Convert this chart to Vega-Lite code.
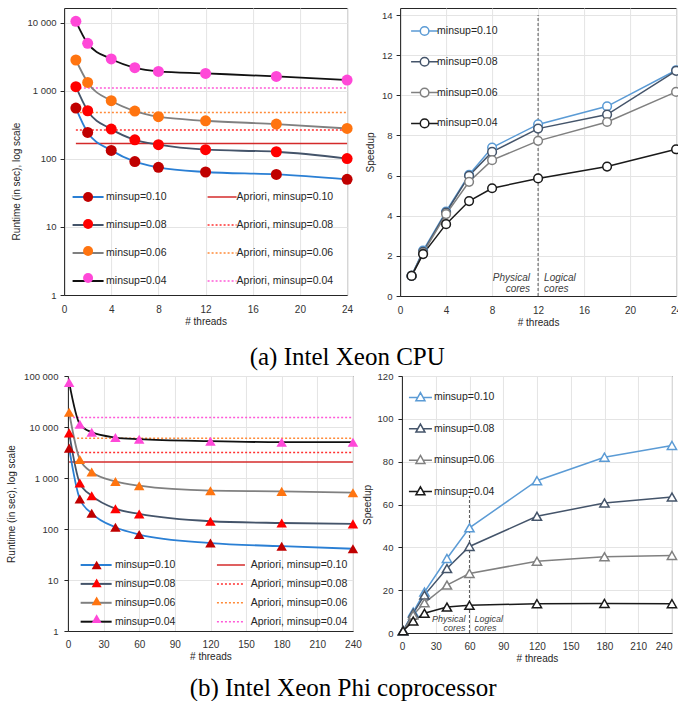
{
  "$schema": "https://vega.github.io/schema/vega-lite/v6.json",
  "background": "white",
  "padding": {"left": 6, "right": 2, "top": 7, "bottom": 0},
  "config": {
    "font": "Liberation Sans",
    "view": {"stroke": "#262626", "strokeWidth": 1},
    "axis": {
      "labelFont": "Liberation Sans", "labelFontSize": 9.5, "labelColor": "#333333",
      "titleFont": "Liberation Sans", "titleFontSize": 10, "titleFontWeight": "normal", "titleColor": "#262626",
      "gridColor": "#e4e4e4", "domainColor": "#262626", "tickColor": "#262626",
      "labelFlush": false, "labelOverlap": false
    },
    "legend": {"labelFont": "Liberation Sans", "labelFontSize": 10.5, "labelColor": "#262626", "padding": 0},
    "title": {"font": "Liberation Serif", "fontSize": 25, "fontWeight": "normal", "color": "#000000"}
  },
  "datasets": {
    "cpu_rt": [
      {"minsup": "minsup=0.10", "t": 1, "runtime": 556}, {"minsup": "minsup=0.10", "t": 2, "runtime": 244}, {"minsup": "minsup=0.10", "t": 4, "runtime": 133}, {"minsup": "minsup=0.10", "t": 6, "runtime": 91}, {"minsup": "minsup=0.10", "t": 8, "runtime": 75}, {"minsup": "minsup=0.10", "t": 12, "runtime": 64}, {"minsup": "minsup=0.10", "t": 18, "runtime": 59}, {"minsup": "minsup=0.10", "t": 24, "runtime": 50},
      {"minsup": "minsup=0.08", "t": 1, "runtime": 1145}, {"minsup": "minsup=0.08", "t": 2, "runtime": 508}, {"minsup": "minsup=0.08", "t": 4, "runtime": 273}, {"minsup": "minsup=0.08", "t": 6, "runtime": 190}, {"minsup": "minsup=0.08", "t": 8, "runtime": 161}, {"minsup": "minsup=0.08", "t": 12, "runtime": 136}, {"minsup": "minsup=0.08", "t": 18, "runtime": 127}, {"minsup": "minsup=0.08", "t": 24, "runtime": 101},
      {"minsup": "minsup=0.06", "t": 1, "runtime": 2826}, {"minsup": "minsup=0.06", "t": 2, "runtime": 1325}, {"minsup": "minsup=0.06", "t": 4, "runtime": 713}, {"minsup": "minsup=0.06", "t": 6, "runtime": 503}, {"minsup": "minsup=0.06", "t": 8, "runtime": 415}, {"minsup": "minsup=0.06", "t": 12, "runtime": 362}, {"minsup": "minsup=0.06", "t": 18, "runtime": 324}, {"minsup": "minsup=0.06", "t": 24, "runtime": 279},
      {"minsup": "minsup=0.04", "t": 1, "runtime": 10450}, {"minsup": "minsup=0.04", "t": 2, "runtime": 4960}, {"minsup": "minsup=0.04", "t": 4, "runtime": 2925}, {"minsup": "minsup=0.04", "t": 6, "runtime": 2180}, {"minsup": "minsup=0.04", "t": 8, "runtime": 1923}, {"minsup": "minsup=0.04", "t": 12, "runtime": 1797}, {"minsup": "minsup=0.04", "t": 18, "runtime": 1623}, {"minsup": "minsup=0.04", "t": 24, "runtime": 1436}
    ],
    "cpu_ap": [
      {"apriori": "Apriori, minsup=0.10", "t": 1, "t1": 24, "runtime": 168},
      {"apriori": "Apriori, minsup=0.08", "t": 1, "t1": 24, "runtime": 264},
      {"apriori": "Apriori, minsup=0.06", "t": 1, "t1": 24, "runtime": 480},
      {"apriori": "Apriori, minsup=0.04", "t": 1, "t1": 24, "runtime": 1096}
    ],
    "cpu_sp": [
      {"minsup": "minsup=0.10", "t": 1, "speedup": 1.0}, {"minsup": "minsup=0.10", "t": 2, "speedup": 2.26}, {"minsup": "minsup=0.10", "t": 4, "speedup": 4.21}, {"minsup": "minsup=0.10", "t": 6, "speedup": 6.04}, {"minsup": "minsup=0.10", "t": 8, "speedup": 7.4}, {"minsup": "minsup=0.10", "t": 12, "speedup": 8.55}, {"minsup": "minsup=0.10", "t": 18, "speedup": 9.45}, {"minsup": "minsup=0.10", "t": 24, "speedup": 11.25},
      {"minsup": "minsup=0.08", "t": 1, "speedup": 1.0}, {"minsup": "minsup=0.08", "t": 2, "speedup": 2.2}, {"minsup": "minsup=0.08", "t": 4, "speedup": 4.16}, {"minsup": "minsup=0.08", "t": 6, "speedup": 5.99}, {"minsup": "minsup=0.08", "t": 8, "speedup": 7.18}, {"minsup": "minsup=0.08", "t": 12, "speedup": 8.34}, {"minsup": "minsup=0.08", "t": 18, "speedup": 9.04}, {"minsup": "minsup=0.08", "t": 24, "speedup": 11.22},
      {"minsup": "minsup=0.06", "t": 1, "speedup": 1.0}, {"minsup": "minsup=0.06", "t": 2, "speedup": 2.14}, {"minsup": "minsup=0.06", "t": 4, "speedup": 4.08}, {"minsup": "minsup=0.06", "t": 6, "speedup": 5.69}, {"minsup": "minsup=0.06", "t": 8, "speedup": 6.77}, {"minsup": "minsup=0.06", "t": 12, "speedup": 7.73}, {"minsup": "minsup=0.06", "t": 18, "speedup": 8.67}, {"minsup": "minsup=0.06", "t": 24, "speedup": 10.17},
      {"minsup": "minsup=0.04", "t": 1, "speedup": 1.0}, {"minsup": "minsup=0.04", "t": 2, "speedup": 2.09}, {"minsup": "minsup=0.04", "t": 4, "speedup": 3.58}, {"minsup": "minsup=0.04", "t": 6, "speedup": 4.73}, {"minsup": "minsup=0.04", "t": 8, "speedup": 5.37}, {"minsup": "minsup=0.04", "t": 12, "speedup": 5.86}, {"minsup": "minsup=0.04", "t": 18, "speedup": 6.45}, {"minsup": "minsup=0.04", "t": 24, "speedup": 7.31}
    ],
    "cpu_div": [{"t": 12, "lo": 0, "hi": 14}],
    "cpu_note": [{"t": 12, "speedup": 0.92, "left": "Physical\ncores", "right": "Logical\ncores"}],
    "phi_rt": [
      {"minsup": "minsup=0.10", "t": 1, "runtime": 3850}, {"minsup": "minsup=0.10", "t": 10, "runtime": 387}, {"minsup": "minsup=0.10", "t": 20, "runtime": 203}, {"minsup": "minsup=0.10", "t": 40, "runtime": 108}, {"minsup": "minsup=0.10", "t": 60, "runtime": 78}, {"minsup": "minsup=0.10", "t": 120, "runtime": 53}, {"minsup": "minsup=0.10", "t": 180, "runtime": 46}, {"minsup": "minsup=0.10", "t": 240, "runtime": 41},
      {"minsup": "minsup=0.08", "t": 1, "runtime": 7680}, {"minsup": "minsup=0.08", "t": 10, "runtime": 796}, {"minsup": "minsup=0.08", "t": 20, "runtime": 450}, {"minsup": "minsup=0.08", "t": 40, "runtime": 250}, {"minsup": "minsup=0.08", "t": 60, "runtime": 197}, {"minsup": "minsup=0.08", "t": 120, "runtime": 142}, {"minsup": "minsup=0.08", "t": 180, "runtime": 131}, {"minsup": "minsup=0.08", "t": 240, "runtime": 126},
      {"minsup": "minsup=0.06", "t": 1, "runtime": 19460}, {"minsup": "minsup=0.06", "t": 10, "runtime": 2310}, {"minsup": "minsup=0.06", "t": 20, "runtime": 1307}, {"minsup": "minsup=0.06", "t": 40, "runtime": 857}, {"minsup": "minsup=0.06", "t": 60, "runtime": 706}, {"minsup": "minsup=0.06", "t": 120, "runtime": 564}, {"minsup": "minsup=0.06", "t": 180, "runtime": 547}, {"minsup": "minsup=0.06", "t": 240, "runtime": 515},
      {"minsup": "minsup=0.04", "t": 1, "runtime": 75100}, {"minsup": "minsup=0.04", "t": 10, "runtime": 11350}, {"minsup": "minsup=0.04", "t": 20, "runtime": 7910}, {"minsup": "minsup=0.04", "t": 40, "runtime": 6220}, {"minsup": "minsup=0.04", "t": 60, "runtime": 5770}, {"minsup": "minsup=0.04", "t": 120, "runtime": 5270}, {"minsup": "minsup=0.04", "t": 180, "runtime": 5040}, {"minsup": "minsup=0.04", "t": 240, "runtime": 5040}
    ],
    "phi_ap": [
      {"apriori": "Apriori, minsup=0.10", "t": 1, "t1": 240, "runtime": 2050},
      {"apriori": "Apriori, minsup=0.08", "t": 1, "t1": 240, "runtime": 3170},
      {"apriori": "Apriori, minsup=0.06", "t": 1, "t1": 240, "runtime": 6040},
      {"apriori": "Apriori, minsup=0.04", "t": 1, "t1": 240, "runtime": 15300}
    ],
    "phi_sp": [
      {"minsup": "minsup=0.10", "t": 1, "speedup": 1}, {"minsup": "minsup=0.10", "t": 10, "speedup": 9.8}, {"minsup": "minsup=0.10", "t": 20, "speedup": 19.1}, {"minsup": "minsup=0.10", "t": 40, "speedup": 34.8}, {"minsup": "minsup=0.10", "t": 60, "speedup": 49.1}, {"minsup": "minsup=0.10", "t": 120, "speedup": 71.1}, {"minsup": "minsup=0.10", "t": 180, "speedup": 82.1}, {"minsup": "minsup=0.10", "t": 240, "speedup": 87.6},
      {"minsup": "minsup=0.08", "t": 1, "speedup": 1}, {"minsup": "minsup=0.08", "t": 10, "speedup": 9.2}, {"minsup": "minsup=0.08", "t": 20, "speedup": 17.7}, {"minsup": "minsup=0.08", "t": 40, "speedup": 30.1}, {"minsup": "minsup=0.08", "t": 60, "speedup": 40.4}, {"minsup": "minsup=0.08", "t": 120, "speedup": 54.5}, {"minsup": "minsup=0.08", "t": 180, "speedup": 60.7}, {"minsup": "minsup=0.08", "t": 240, "speedup": 63.5},
      {"minsup": "minsup=0.06", "t": 1, "speedup": 1}, {"minsup": "minsup=0.06", "t": 10, "speedup": 8.4}, {"minsup": "minsup=0.06", "t": 20, "speedup": 14.1}, {"minsup": "minsup=0.06", "t": 40, "speedup": 22.4}, {"minsup": "minsup=0.06", "t": 60, "speedup": 27.8}, {"minsup": "minsup=0.06", "t": 120, "speedup": 33.5}, {"minsup": "minsup=0.06", "t": 180, "speedup": 35.6}, {"minsup": "minsup=0.06", "t": 240, "speedup": 36.2},
      {"minsup": "minsup=0.04", "t": 1, "speedup": 1}, {"minsup": "minsup=0.04", "t": 10, "speedup": 5.6}, {"minsup": "minsup=0.04", "t": 20, "speedup": 9.2}, {"minsup": "minsup=0.04", "t": 40, "speedup": 12.1}, {"minsup": "minsup=0.04", "t": 60, "speedup": 12.9}, {"minsup": "minsup=0.04", "t": 120, "speedup": 13.7}, {"minsup": "minsup=0.04", "t": 180, "speedup": 13.8}, {"minsup": "minsup=0.04", "t": 240, "speedup": 13.7}
    ],
    "phi_div": [{"t": 60, "lo": 0, "hi": 64}],
    "phi_note": [{"t": 60, "speedup": 6.5, "left": "Physical\ncores", "right": "Logical\ncores"}]
  },
  "columns": 1,
  "center": true,
  "spacing": 0,
  "resolve": {
    "scale": {"color": "independent", "stroke": "independent", "fill": "independent", "strokeDash": "independent"},
    "legend": {"color": "independent", "stroke": "independent", "fill": "independent", "strokeDash": "independent"}
  },
  "concat": [
    {
      "spacing": 10,
      "resolve": {
        "scale": {"color": "independent", "stroke": "independent", "fill": "independent", "strokeDash": "independent"},
        "legend": {"color": "independent", "stroke": "independent", "fill": "independent", "strokeDash": "independent"}
      },
      "title": {"text": "(a) Intel Xeon CPU", "orient": "bottom", "anchor": "middle", "frame": "bounds", "offset": 17},
      "hconcat": [
        {
          "width": 283, "height": 287,
          "encoding": {
            "x": {"field": "t", "type": "quantitative", "scale": {"domain": [0, 24], "nice": false}, "axis": {"title": "# threads", "values": [0, 4, 8, 12, 16, 20, 24], "ticks": false, "labelPadding": 9, "titlePadding": 2, "labelFontSize": 10, "labelOverlap": false}}
          },
          "layer": [
            {
              "data": {"name": "cpu_ap"},
              "mark": {"type": "rule", "strokeWidth": 1.5},
              "encoding": {
                "x2": {"field": "t1"},
                "y": {"field": "runtime", "type": "quantitative", "scale": {"type": "log", "domain": [1, 16400], "nice": false}, "axis": {"title": "Runtime (in sec), log scale", "values": [1, 10, 100, 1000, 10000], "labelExpr": "datum.value >= 1000 ? format(datum.value / 1000, 'd') + ' 000' : datum.label", "tickSize": 4, "labelPadding": 4, "titlePadding": 6, "titleY": 173, "labelOverlap": false}},
                "color": {"field": "apriori", "type": "nominal", "scale": {"domain": ["Apriori, minsup=0.10", "Apriori, minsup=0.08", "Apriori, minsup=0.06", "Apriori, minsup=0.04"], "range": ["#d42a2a", "#ff3030", "#ff8a38", "#ff5ad8"]}, "legend": {"orient": "none", "legendX": 152, "legendY": 183, "title": null, "symbolType": "M-2.9,0H2.9", "symbolSize": 100, "symbolStrokeWidth": 1.5, "labelOffset": 8.5, "rowPadding": 16, "zindex": 1}},
                "strokeDash": {"field": "apriori", "type": "nominal", "scale": {"domain": ["Apriori, minsup=0.10", "Apriori, minsup=0.08", "Apriori, minsup=0.06", "Apriori, minsup=0.04"], "range": [[1, 0], [2, 2], [2, 2], [2, 2]]}, "legend": {"orient": "none", "legendX": 152, "legendY": 183, "title": null, "symbolType": "M-2.9,0H2.9", "symbolSize": 100, "symbolStrokeWidth": 1.5, "labelOffset": 8.5, "rowPadding": 16, "zindex": 1}}
              }
            },
            {
              "data": {"name": "cpu_rt"},
              "mark": {"type": "line", "strokeWidth": 1.8, "interpolate": "monotone"},
              "encoding": {
                "y": {"field": "runtime", "type": "quantitative"},
                "stroke": {"field": "minsup", "type": "nominal", "scale": {"domain": ["minsup=0.10", "minsup=0.08", "minsup=0.06", "minsup=0.04"], "range": ["#2a7fd4", "#44546a", "#808080", "#111111"]}, "legend": {"orient": "none", "legendX": 18, "legendY": 183, "title": null, "symbolType": "M-3.1,0H3.1", "symbolSize": 100, "symbolStrokeWidth": 2, "labelOffset": 12, "rowPadding": 16, "zindex": 1}}
              }
            },
            {
              "data": {"name": "cpu_rt"},
              "mark": {"type": "point", "shape": "circle", "filled": true, "size": 121, "opacity": 1, "strokeWidth": 0},
              "encoding": {
                "y": {"field": "runtime", "type": "quantitative"},
                "fill": {"field": "minsup", "type": "nominal", "sort": null, "scale": {"range": ["#c00000", "#ff0000", "#ff7410", "#ff48d8"]}, "legend": {"orient": "none", "legendX": 18.75, "legendY": 183.75, "title": null, "symbolType": "circle", "symbolSize": 100, "symbolStrokeWidth": 0, "labelExpr": "''", "labelOffset": 12, "rowPadding": 16, "zindex": 2}}
              }
            }
          ]
        },
        {
          "width": 276, "height": 288,
          "encoding": {
            "x": {"field": "t", "type": "quantitative", "scale": {"domain": [0, 24], "nice": false}, "axis": {"title": "# threads", "values": [0, 4, 8, 12, 16, 20, 24], "ticks": false, "labelPadding": 9, "titlePadding": 2, "labelFontSize": 10, "labelOverlap": false}}
          },
          "layer": [
            {
              "data": {"name": "cpu_div"},
              "mark": {"type": "rule", "stroke": "#555555", "strokeWidth": 1, "strokeDash": [3, 2]},
              "encoding": {
                "y": {"field": "lo", "type": "quantitative", "scale": {"domain": [0, 14.35], "nice": false}, "axis": {"title": "Speedup", "values": [0, 2, 4, 6, 8, 10, 12, 14], "tickSize": 4, "labelPadding": 4, "titlePadding": 6, "labelOverlap": false}},
                "y2": {"field": "hi"}
              }
            },
            {
              "data": {"name": "cpu_note"},
              "mark": {"type": "text", "align": "right", "baseline": "middle", "dx": -8, "fontStyle": "italic", "fontSize": 10, "lineBreak": "\n", "lineHeight": 11, "color": "#404040"},
              "encoding": {
                "y": {"field": "speedup", "type": "quantitative"},
                "text": {"field": "left"}
              }
            },
            {
              "data": {"name": "cpu_note"},
              "mark": {"type": "text", "align": "left", "baseline": "middle", "dx": 6, "fontStyle": "italic", "fontSize": 10, "lineBreak": "\n", "lineHeight": 11, "color": "#404040"},
              "encoding": {
                "y": {"field": "speedup", "type": "quantitative"},
                "text": {"field": "right"}
              }
            },
            {
              "data": {"name": "cpu_sp"},
              "mark": {"type": "line", "strokeWidth": 1.5},
              "encoding": {
                "y": {"field": "speedup", "type": "quantitative"},
                "stroke": {"field": "minsup", "type": "nominal", "scale": {"domain": ["minsup=0.10", "minsup=0.08", "minsup=0.06", "minsup=0.04"], "range": ["#5b9bd5", "#44546a", "#808080", "#1a1a1a"]}, "legend": {"orient": "none", "legendX": 18.5, "legendY": 17, "title": null, "symbolType": "M-2.7,0H-0.86M0.86,0H2.7M-0.86,0A0.86,0.86,0,1,1,0.86,0A0.86,0.86,0,1,1,-0.86,0Z", "symbolSize": 100, "symbolStrokeWidth": 1.5, "symbolFillColor": "white", "labelOffset": 6.5, "rowPadding": 14.8}}
              }
            },
            {
              "data": {"name": "cpu_sp"},
              "mark": {"type": "point", "shape": "circle", "size": 75, "fill": "white", "opacity": 1, "strokeWidth": 1.5},
              "encoding": {
                "y": {"field": "speedup", "type": "quantitative"},
                "stroke": {"field": "minsup", "type": "nominal", "scale": {"domain": ["minsup=0.10", "minsup=0.08", "minsup=0.06", "minsup=0.04"], "range": ["#5b9bd5", "#44546a", "#808080", "#1a1a1a"]}, "legend": {"orient": "none", "legendX": 18.5, "legendY": 17, "title": null, "symbolType": "M-2.7,0H-0.86M0.86,0H2.7M-0.86,0A0.86,0.86,0,1,1,0.86,0A0.86,0.86,0,1,1,-0.86,0Z", "symbolSize": 100, "symbolStrokeWidth": 1.5, "symbolFillColor": "white", "labelOffset": 6.5, "rowPadding": 14.8}}
              }
            }
          ]
        }
      ]
    },
    {
      "spacing": -1,
      "resolve": {
        "scale": {"color": "independent", "stroke": "independent", "fill": "independent", "strokeDash": "independent"},
        "legend": {"color": "independent", "stroke": "independent", "fill": "independent", "strokeDash": "independent"}
      },
      "title": {"text": "(b) Intel Xeon Phi coprocessor", "orient": "bottom", "anchor": "middle", "frame": "bounds", "offset": 12},
      "hconcat": [
        {
          "width": 285, "height": 255,
          "encoding": {
            "x": {"field": "t", "type": "quantitative", "scale": {"domain": [0, 240], "nice": false}, "axis": {"title": "# threads", "values": [0, 30, 60, 90, 120, 150, 180, 210, 240], "ticks": false, "labelPadding": 8, "titlePadding": 2, "labelFontSize": 10, "labelOverlap": false, "labelBound": false}}
          },
          "layer": [
            {
              "data": {"name": "phi_ap"},
              "mark": {"type": "rule", "strokeWidth": 1.5},
              "encoding": {
                "x2": {"field": "t1"},
                "y": {"field": "runtime", "type": "quantitative", "scale": {"type": "log", "domain": [1, 100000], "nice": false}, "axis": {"title": "Runtime (in sec), log scale", "values": [1, 10, 100, 1000, 10000, 100000], "labelExpr": "datum.value >= 1000 ? format(datum.value / 1000, 'd') + ' 000' : datum.label", "tickSize": 4, "labelPadding": 6, "titlePadding": 7, "labelOverlap": false}},
                "color": {"field": "apriori", "type": "nominal", "scale": {"domain": ["Apriori, minsup=0.10", "Apriori, minsup=0.08", "Apriori, minsup=0.06", "Apriori, minsup=0.04"], "range": ["#d42a2a", "#ff3030", "#ff8a38", "#ff5ad8"]}, "legend": {"orient": "none", "legendX": 157, "legendY": 183, "title": null, "symbolType": "M-2.8,0H2.8", "symbolSize": 100, "symbolStrokeWidth": 1.5, "labelOffset": 13.7, "rowPadding": 6.9, "zindex": 1}},
                "strokeDash": {"field": "apriori", "type": "nominal", "scale": {"domain": ["Apriori, minsup=0.10", "Apriori, minsup=0.08", "Apriori, minsup=0.06", "Apriori, minsup=0.04"], "range": [[1, 0], [2, 2], [2, 2], [2, 2]]}, "legend": {"orient": "none", "legendX": 157, "legendY": 183, "title": null, "symbolType": "M-2.8,0H2.8", "symbolSize": 100, "symbolStrokeWidth": 1.5, "labelOffset": 13.7, "rowPadding": 6.9, "zindex": 1}}
              }
            },
            {
              "data": {"name": "phi_rt"},
              "mark": {"type": "line", "strokeWidth": 1.8, "interpolate": "monotone"},
              "encoding": {
                "y": {"field": "runtime", "type": "quantitative"},
                "stroke": {"field": "minsup", "type": "nominal", "scale": {"domain": ["minsup=0.10", "minsup=0.08", "minsup=0.06", "minsup=0.04"], "range": ["#2a7fd4", "#44546a", "#808080", "#111111"]}, "legend": {"orient": "none", "legendX": 22.2, "legendY": 183, "title": null, "symbolType": "M-3.1,0H3.1", "symbolSize": 100, "symbolStrokeWidth": 2, "labelOffset": 12.8, "rowPadding": 6.9, "zindex": 1}}
              }
            },
            {
              "data": {"name": "phi_rt"},
              "mark": {"type": "point", "shape": "triangle-up", "filled": true, "size": 110, "opacity": 1, "strokeWidth": 0},
              "encoding": {
                "y": {"field": "runtime", "type": "quantitative"},
                "fill": {"field": "minsup", "type": "nominal", "sort": null, "scale": {"range": ["#c00000", "#ff0000", "#ff7410", "#ff48d8"]}, "legend": {"orient": "none", "legendX": 23.45, "legendY": 183.75, "title": null, "symbolType": "triangle-up", "symbolSize": 100, "symbolStrokeWidth": 0, "labelExpr": "''", "labelOffset": 12.8, "rowPadding": 6.9, "zindex": 2}}
              }
            }
          ]
        },
        {
          "width": 270, "height": 257,
          "encoding": {
            "x": {"field": "t", "type": "quantitative", "scale": {"domain": [0, 240], "nice": false}, "axis": {"title": "# threads", "values": [0, 30, 60, 90, 120, 150, 180, 210, 240], "ticks": false, "labelPadding": 8, "titlePadding": 2, "labelFontSize": 10, "labelOverlap": false, "labelBound": false, "labelAlign": {"condition": {"test": "datum.value == 240", "value": "right"}, "value": "center"}}}
          },
          "layer": [
            {
              "data": {"name": "phi_div"},
              "mark": {"type": "rule", "stroke": "#555555", "strokeWidth": 1, "strokeDash": [3, 2]},
              "encoding": {
                "y": {"field": "lo", "type": "quantitative", "scale": {"domain": [0, 120], "nice": false}, "axis": {"title": "Speedup", "values": [0, 20, 40, 60, 80, 100, 120], "tickSize": 4, "labelPadding": 5, "titlePadding": 5, "labelOverlap": false}},
                "y2": {"field": "hi"}
              }
            },
            {
              "data": {"name": "phi_note"},
              "mark": {"type": "text", "align": "right", "baseline": "middle", "dx": -4, "fontStyle": "italic", "fontSize": 9, "lineBreak": "\n", "lineHeight": 9, "color": "#404040"},
              "encoding": {
                "y": {"field": "speedup", "type": "quantitative"},
                "text": {"field": "left"}
              }
            },
            {
              "data": {"name": "phi_note"},
              "mark": {"type": "text", "align": "left", "baseline": "middle", "dx": 5, "fontStyle": "italic", "fontSize": 9, "lineBreak": "\n", "lineHeight": 9, "color": "#404040"},
              "encoding": {
                "y": {"field": "speedup", "type": "quantitative"},
                "text": {"field": "right"}
              }
            },
            {
              "data": {"name": "phi_sp"},
              "mark": {"type": "line", "strokeWidth": 1.5},
              "encoding": {
                "y": {"field": "speedup", "type": "quantitative"},
                "stroke": {"field": "minsup", "type": "nominal", "scale": {"domain": ["minsup=0.10", "minsup=0.08", "minsup=0.06", "minsup=0.04"], "range": ["#5b9bd5", "#44546a", "#808080", "#1a1a1a"]}, "legend": {"orient": "none", "legendX": 12.5, "legendY": 15.4, "title": null, "symbolType": "M-2.3,0H-0.53M0.53,0H2.3M0,-0.95L0.9,0.65L-0.9,0.65Z", "symbolSize": 100, "symbolStrokeWidth": 1.5, "symbolFillColor": "white", "labelOffset": 7.5, "rowPadding": 16.4}}
              }
            },
            {
              "data": {"name": "phi_sp"},
              "mark": {"type": "point", "shape": "triangle-up", "size": 85, "fill": "white", "opacity": 1, "strokeWidth": 1.5},
              "encoding": {
                "y": {"field": "speedup", "type": "quantitative"},
                "stroke": {"field": "minsup", "type": "nominal", "scale": {"domain": ["minsup=0.10", "minsup=0.08", "minsup=0.06", "minsup=0.04"], "range": ["#5b9bd5", "#44546a", "#808080", "#1a1a1a"]}, "legend": {"orient": "none", "legendX": 12.5, "legendY": 15.4, "title": null, "symbolType": "M-2.3,0H-0.53M0.53,0H2.3M0,-0.95L0.9,0.65L-0.9,0.65Z", "symbolSize": 100, "symbolStrokeWidth": 1.5, "symbolFillColor": "white", "labelOffset": 7.5, "rowPadding": 16.4}}
              }
            }
          ]
        }
      ]
    }
  ]
}
